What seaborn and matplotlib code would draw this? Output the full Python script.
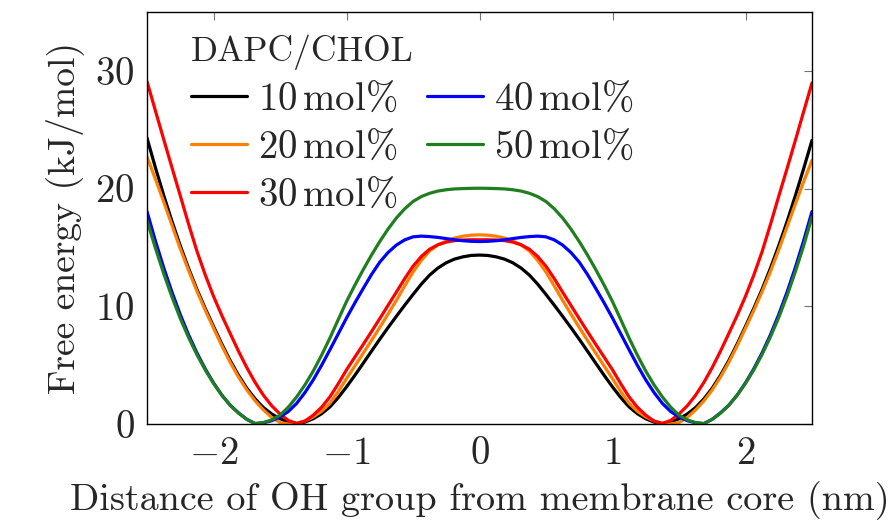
import matplotlib
matplotlib.use("Agg")
import matplotlib.pyplot as plt
import pandas as pd
import seaborn as sns

# distance of OH group from membrane core (nm), sampled every 0.0625 nm
x_nm = [-2.5, -2.4375, -2.375, -2.3125, -2.25, -2.1875, -2.125, -2.0625,
        -2.0, -1.9375, -1.875, -1.8125, -1.75, -1.6875, -1.625, -1.5625,
        -1.5, -1.4375, -1.375, -1.3125, -1.25, -1.1875, -1.125, -1.0625,
        -1.0, -0.9375, -0.875, -0.8125, -0.75, -0.6875, -0.625, -0.5625,
        -0.5, -0.4375, -0.375, -0.3125, -0.25, -0.1875, -0.125, -0.0625,
        0.0,
        0.0625, 0.125, 0.1875, 0.25, 0.3125, 0.375, 0.4375, 0.5,
        0.5625, 0.625, 0.6875, 0.75, 0.8125, 0.875, 0.9375, 1.0,
        1.0625, 1.125, 1.1875, 1.25, 1.3125, 1.375, 1.4375, 1.5,
        1.5625, 1.625, 1.6875, 1.75, 1.8125, 1.875, 1.9375, 2.0,
        2.0625, 2.125, 2.1875, 2.25, 2.3125, 2.375, 2.4375, 2.5]

# free energy (kJ/mol) for DAPC/CHOL mixtures
fe_10 = [24.3, 21.81, 19.45, 17.23, 15.15, 13.23, 11.45, 9.83,
         8.3, 6.8, 5.4, 4.15, 3.05, 2.14, 1.4, 0.85,
         0.45, 0.16, 0.04, 0.16, 0.45, 0.87, 1.45, 2.24,
         3.15, 4.13, 5.15, 6.18, 7.2, 8.19, 9.15, 10.09,
         11.0, 11.88, 12.65, 13.25, 13.7, 14.01, 14.2, 14.32,
         14.35,
         14.32, 14.2, 14.01, 13.7, 13.25, 12.65, 11.88, 11.0,
         10.09, 9.15, 8.19, 7.2, 6.18, 5.15, 4.13, 3.15,
         2.24, 1.45, 0.87, 0.45, 0.16, 0.04, 0.16, 0.45,
         0.85, 1.4, 2.14, 3.05, 4.15, 5.4, 6.8, 8.3,
         9.83, 11.45, 13.23, 15.15, 17.2, 19.4, 21.7, 24.1]
fe_20 = [22.7, 20.83, 18.9, 16.89, 14.9, 13.05, 11.3, 9.68,
         8.15, 6.65, 5.25, 4.0, 2.9, 1.97, 1.2, 0.56,
         0.12, 0.0, 0.05, 0.25, 0.6, 1.08, 1.75, 2.74,
         3.85, 4.92, 6.0, 7.09, 8.2, 9.34, 10.5, 11.73,
         12.9, 13.9, 14.7, 15.21, 15.55, 15.8, 15.95, 16.04,
         16.07,
         16.04, 15.95, 15.8, 15.55, 15.21, 14.7, 13.9, 12.9,
         11.73, 10.5, 9.34, 8.2, 7.09, 6.0, 4.92, 3.85,
         2.74, 1.75, 1.08, 0.6, 0.25, 0.05, 0.0, 0.12,
         0.56, 1.2, 1.97, 2.9, 4.0, 5.25, 6.65, 8.15,
         9.65, 11.25, 12.95, 14.8, 16.75, 18.7, 20.6, 22.4]
fe_30 = [29.1, 26.64, 24.2, 21.79, 19.4, 16.99, 14.7, 12.68,
         10.85, 9.22, 7.7, 6.2, 4.8, 3.54, 2.45, 1.55,
         0.85, 0.3, 0.05, 0.25, 0.75, 1.42, 2.3, 3.41,
         4.6, 5.68, 6.75, 7.84, 8.95, 10.08, 11.2, 12.35,
         13.4, 14.23, 14.85, 15.23, 15.45, 15.58, 15.63, 15.65,
         15.65,
         15.65, 15.63, 15.58, 15.45, 15.23, 14.85, 14.23, 13.4,
         12.35, 11.2, 10.08, 8.95, 7.84, 6.75, 5.68, 4.6,
         3.41, 2.3, 1.42, 0.75, 0.25, 0.05, 0.3, 0.85,
         1.55, 2.45, 3.54, 4.8, 6.2, 7.7, 9.22, 10.85,
         12.65, 14.65, 16.95, 19.35, 21.7, 24.1, 26.55, 28.97]
fe_40 = [18.05, 15.58, 13.3, 11.21, 9.3, 7.58, 6.05, 4.69,
         3.5, 2.46, 1.6, 0.95, 0.4, 0.04, 0.1, 0.28,
         0.6, 1.06, 1.75, 2.67, 3.75, 4.98, 6.3, 7.65,
         9.0, 10.28, 11.5, 12.69, 13.75, 14.57, 15.2, 15.64,
         15.9, 15.96, 15.92, 15.85, 15.75, 15.65, 15.57, 15.52,
         15.5,
         15.52, 15.57, 15.65, 15.75, 15.85, 15.92, 15.96, 15.9,
         15.64, 15.2, 14.57, 13.75, 12.69, 11.5, 10.28, 9.0,
         7.65, 6.3, 4.98, 3.75, 2.67, 1.75, 1.06, 0.6,
         0.28, 0.1, 0.04, 0.4, 0.95, 1.6, 2.46, 3.5,
         4.69, 6.05, 7.58, 9.3, 11.21, 13.3, 15.58, 18.05]
fe_50 = [17.3, 14.97, 12.8, 10.8, 8.97, 7.35, 5.9, 4.6,
         3.45, 2.44, 1.6, 0.93, 0.4, 0.03, 0.12, 0.35,
         0.75, 1.43, 2.3, 3.32, 4.5, 5.84, 7.3, 8.86,
         10.4, 11.79, 13.1, 14.34, 15.5, 16.56, 17.5, 18.28,
         18.9, 19.32, 19.6, 19.79, 19.9, 19.97, 20.0, 20.02,
         20.03,
         20.02, 20.0, 19.97, 19.9, 19.79, 19.6, 19.32, 18.9,
         18.28, 17.5, 16.56, 15.5, 14.34, 13.1, 11.79, 10.4,
         8.86, 7.3, 5.84, 4.5, 3.32, 2.3, 1.43, 0.75,
         0.35, 0.12, 0.03, 0.4, 0.93, 1.6, 2.44, 3.45,
         4.6, 5.92, 7.4, 9.05, 10.9, 12.95, 15.15, 17.6]

series_labels = [r"$10\,\mathrm{mol}\%$", r"$20\,\mathrm{mol}\%$", r"$30\,\mathrm{mol}\%$",
                 r"$40\,\mathrm{mol}\%$", r"$50\,\mathrm{mol}\%$"]
series_values = [fe_10, fe_20, fe_30, fe_40, fe_50]
series_colors = ["#000000", "#ff8000", "#ff0000", "#0000ff", "#1f7f1f"]

x_ticks = [-2, -1, 0, 1, 2]
y_ticks = [0, 10, 20, 30]

rows = []
for lab, vals in zip(series_labels, series_values):
    assert len(vals) == len(x_nm), (lab, len(vals))
    for xv, yv in zip(x_nm, vals):
        rows.append({"x": xv, "y": yv, "series": lab})
df = pd.DataFrame(rows)

sns.set_theme(style="white")
plt.rcParams["font.family"] = ["cmr10"]
plt.rcParams["mathtext.fontset"] = "cm"
plt.rcParams["axes.formatter.use_mathtext"] = True
plt.rcParams["axes.unicode_minus"] = True

fig = plt.figure(figsize=(8.94, 5.25), dpi=100)
ax = fig.add_axes([147 / 894, 1 - 424 / 525, (812 - 147) / 894, (424 - 12) / 525])

sns.lineplot(data=df, x="x", y="y", hue="series", palette=series_colors,
             linewidth=2.3, sort=False, estimator=None, ax=ax)

ax.set_xlim(-2.5, 2.5)
ax.set_ylim(0, 35)
ax.set_xticks(x_ticks)
ax.set_yticks(y_ticks)
ax.tick_params(direction="in", top=True, right=True, length=6, width=0.8,
               color="0.45", labelsize=28, pad=9)
for s in ax.spines.values():
    s.set_color("black")
    s.set_linewidth(1.0)

ax.set_xlabel("Distance of OH group from membrane core (nm)", fontsize=27.5, labelpad=6)
ax.set_ylabel("Free energy (kJ/mol)", fontsize=27, labelpad=8)

leg = ax.legend(title="DAPC/CHOL", ncol=2, frameon=False, loc="upper left",
                bbox_to_anchor=(0.066, 0.945), fontsize=28, title_fontsize=25.5,
                handlelength=1.45, handletextpad=0.28, columnspacing=0.75,
                labelspacing=0.31, borderpad=0.0, borderaxespad=0.0,
                alignment="left")
for h in leg.get_lines():
    h.set_linewidth(2.3)

fig.savefig("out.png", dpi=100)
